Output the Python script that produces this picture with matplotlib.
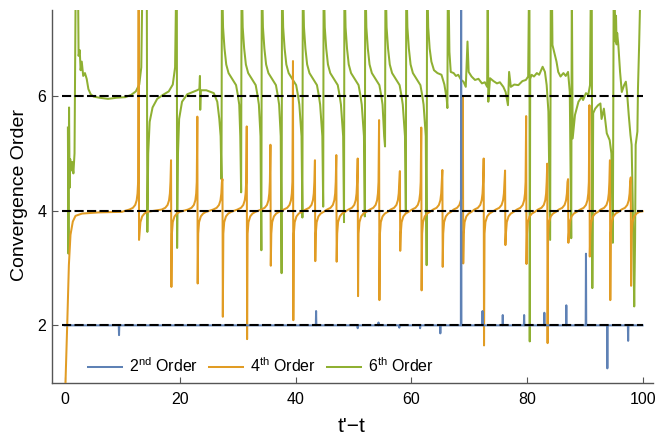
import matplotlib.pyplot as plt

plt.rcParams['font.family'] = ['Liberation Sans', 'DejaVu Sans']
plt.rcParams['mathtext.fontset'] = 'custom'
plt.rcParams['mathtext.rm'] = 'Liberation Sans'

BLUE = '#5E81B5'
ORANGE = '#E19C24'
GREEN = '#8FB032'
TOP = 8.0  # values that run off the top of the frame

# -------------------------------------------------
# data
# -------------------------------------------------
ref_levels = [2, 4, 6]

# 2nd order: flat at 2 with short spikes
blue_spike_x = [9.4, 43.5, 50.7, 54.3, 57.9, 61.5, 65.0, 68.6, 72.3, 75.8, 79.5, 83.0, 86.8, 90.2, 93.9, 97.5]
blue_spike_y = [1.83, 2.25, 1.95, 2.05, 1.96, 1.95, 1.86, TOP, 2.25, 2.18, 2.18, 2.22, 2.35, 3.25, 1.25, 1.73]

# 4th order: start-up, then resonances (pole position, peak, trough)
orange_lead_x = [0.05, 0.14, 0.43, 0.72, 1.0, 1.4, 1.87, 3.0, 5.9, 9.9]
orange_lead_y = [0.6, 1.02, 2.0, 3.05, 3.58, 3.81, 3.91, 3.95, 3.97, 3.98]
orange_pole_x = [12.8, 18.4, 22.95, 27.3, 31.5, 35.6, 39.5, 43.3, 47.0, 50.7, 54.4, 58.0,
                 61.7, 65.35, 68.9, 72.5, 76.2, 79.85, 83.5, 87.1, 90.8, 94.35, 97.95]
orange_peak = [TOP, 4.88, 5.64, 4.55, 5.47, 5.15, 6.61, 4.88, 4.97, 4.91, 5.58, 4.69,
               5.45, 4.71, 6.0, 4.91, 4.70, 5.65, 4.82, 4.55, 5.84, 4.88, 4.58]
orange_trough = [3.49, 2.67, 2.73, 2.15, 1.76, 3.04, 2.09, 3.12, 3.11, 2.51, 2.44, 3.30,
                 2.61, 3.02, 3.08, 1.65, 3.40, 3.07, 1.69, 3.44, 3.20, 2.44, 2.69]
# shape of one orange resonance (offset from pole, value)
orange_rise_dx = [-1.6, -1.0, -0.6, -0.35, -0.2, -0.1]
orange_rise_y = [4.02, 4.05, 4.10, 4.18, 4.30, 4.50]
orange_fall_dx = [0.15, 0.3, 0.6, 1.0, 1.5]
orange_fall_y = [3.60, 3.80, 3.90, 3.95, 3.98]

# 6th order: irregular start, regular poles, noisy end
green_lead_x = [0.55, 0.65, 0.75, 0.85, 0.95, 1.1, 1.3, 1.5, 1.7, 1.9, 2.3, 2.4, 2.6, 2.75,
                2.95, 3.2, 3.5, 3.8, 4.1, 4.5, 5.0, 6.0, 7.5, 9.0, 10.5, 11.5, 12.3, 12.9,
                13.25, 13.45, 14.2, 14.3, 14.45, 14.7, 15.2, 16.0, 17.0, 18.0, 18.7, 19.1,
                19.3, 19.4, 19.45, 19.6, 19.8, 20.3, 21.2, 22.9, 23.3, 23.4, 23.45, 23.55,
                24.5, 25.8, 26.4, 26.75]
green_lead_y = [5.45, 3.25, 5.8, 4.4, 4.9, 4.7, 4.85, 4.65, 5.0, TOP, TOP, 6.7, 6.8, 6.45,
                6.6, 6.35, 6.4, 6.3, 6.12, 6.03, 5.99, 5.97, 5.95, 5.97, 5.98, 6.02, 6.08, 6.2,
                6.5, TOP, TOP, 3.63, 5.0, 5.55, 5.8, 5.95, 6.02, 6.08, 6.2, 6.5,
                TOP, TOP, 3.35, 5.0, 5.6, 5.9, 6.03, 6.1, 6.12, 6.35, 5.76, 6.1,
                6.1, 6.05, 5.9, 5.6]
green_pole_x = [27.2, 30.6, 34.1, 37.6, 41.2, 44.8, 48.4, 52.0, 55.5, 59.1, 62.7]
green_pole_min = [4.55, 4.32, 3.31, 2.91, 3.88, 4.07, 3.8, 3.9, 5.12, 3.98, 3.05]
# shape after a pole and just before the next one
green_after_dx = [0.05, 0.2, 0.45, 0.75, 1.15, 1.9, 2.45, 2.75, 3.0]
green_after_y = [TOP, 7.2, 6.83, 6.55, 6.4, 6.28, 6.19, 6.02, 5.85]
green_before_dx = [-0.22]
green_before_y = [5.3]
green_tail_x = [62.75, 62.9, 63.15, 63.45, 63.9, 64.5, 65.2, 65.7, 66.1, 66.22, 66.3, 66.4,
                66.57, 66.8, 67.3, 67.7, 68.1, 68.6, 69.0, 69.4, 69.7, 69.9, 70.4, 71.0,
                71.6, 72.2, 72.7, 73.1, 73.2, 73.3, 73.6, 74.2, 74.8, 75.3, 75.9, 76.3,
                76.7, 76.9, 77.2, 77.8, 78.5, 79.2, 79.8, 80.2, 80.35, 80.42, 80.47, 80.55,
                80.8, 81.2, 81.7, 82.1, 82.7, 83.1, 83.4, 83.7, 84.0, 84.12, 84.3, 84.4,
                84.8, 85.1, 85.4, 85.8, 86.3, 86.7, 87.1, 87.4, 87.65, 87.75, 87.9, 88.3,
                88.9, 89.5, 89.7, 90.2, 90.6, 90.9, 91.05, 91.2, 91.3, 91.45, 91.8, 92.3,
                92.7, 92.9, 93.3, 93.8, 94.3, 94.6, 94.85, 95.0, 95.2, 95.3, 95.4, 95.5,
                95.6, 95.8, 96.1, 96.4, 96.8, 97.1, 97.3, 97.6, 97.9, 98.1, 98.3, 98.55,
                98.7, 98.8, 99.1, 99.2, 99.4, 99.65]
green_tail_y = [TOP, 7.2, 6.83, 6.6, 6.45, 6.4, 6.37, 6.2, 5.95, 5.79, TOP, TOP,
                6.77, 6.42, 6.40, 6.35, 6.37, 6.28, 6.25, 6.16, 6.95, 6.42, 6.34, 6.28,
                6.30, 6.22, 6.24, 6.16, TOP, 5.9, 6.31, 6.26, 6.22, 6.24, 6.16, 6.07,
                5.84, 6.42, 6.16, 6.2, 6.19, 6.26, 6.28, 6.34, TOP, TOP, 1.72, 6.3,
                6.37, 6.34, 6.40, 6.37, 6.51, 6.42, 6.19, 5.73, 3.49, TOP, TOP, 6.89,
                6.72, 6.6, 6.42, 6.34, 6.40, 6.35, 6.42, 6.07, 3.52, TOP, 5.26, 5.67,
                5.9, 5.99, 5.93, 6.05, 6.02, 6.19, TOP, TOP, 2.65, 5.7, 5.78, 5.84,
                5.87, 5.6, 5.78, 5.35, 5.23, 5.0, 3.44, TOP, 7.5, 6.95, 7.4, 6.9,
                7.1, 6.89, 6.42, 6.07, 6.19, 6.25, 6.07, 5.67, 5.32, 5.15, 4.1, 2.33,
                3.52, 5.15, 5.38, 6.13, 6.89, TOP]


# -------------------------------------------------
# assemble the polylines
# -------------------------------------------------
def build_blue():
    xs, ys = [0.0], [2.0]
    for p, v in zip(blue_spike_x, blue_spike_y):
        xs += [p - 0.05, p, p + 0.05]
        ys += [2.0, v, 2.0]
    xs.append(100.0)
    ys.append(2.0)
    return xs, ys


def build_orange():
    xs, ys = list(orange_lead_x), list(orange_lead_y)
    for p, hi, lo in zip(orange_pole_x, orange_peak, orange_trough):
        xs += [p + d for d in orange_rise_dx] + [p, p + 0.06] + [p + d for d in orange_fall_dx]
        ys += orange_rise_y + [hi, lo] + orange_fall_y
    xs.append(100.0)
    ys.append(3.99)
    return xs, ys


def build_green():
    xs, ys = list(green_lead_x), list(green_lead_y)
    last = len(green_pole_x) - 1
    for i, (p, lo) in enumerate(zip(green_pole_x, green_pole_min)):
        xs += [p + d for d in green_before_dx] + [p - 0.07, p]
        ys += green_before_y + [lo, TOP]
        if i < last:
            xs += [p + d for d in green_after_dx]
            ys += green_after_y
    xs += green_tail_x
    ys += green_tail_y
    return xs, ys


# -------------------------------------------------
# figure
# -------------------------------------------------
fig = plt.figure(figsize=(6.57, 4.37), dpi=100)
ax = fig.add_axes([52 / 657, 54.3 / 437, 601 / 657, 372.7 / 437])

bx, by = build_blue()
ox, oy = build_orange()
gx, gy = build_green()

ax.plot(gx, gy, color=GREEN, lw=1.45, zorder=2, label='6$^{\\mathrm{th}}$ Order')
ax.plot(ox, oy, color=ORANGE, lw=1.45, zorder=3, label='4$^{\\mathrm{th}}$ Order')
ax.plot(bx, by, color=BLUE, lw=1.45, zorder=4, label='2$^{\\mathrm{nd}}$ Order')

for lev in ref_levels:
    ax.plot([-0.4, 100], [lev, lev], color='black', lw=1.5, dashes=(4.4, 1.6), zorder=5)

ax.set_xlim(-2.2, 101.8)
ax.set_ylim(1.0, 7.5)
ax.set_xticks([0, 20, 40, 60, 80, 100])
ax.set_yticks(ref_levels)

for side in ['top', 'right']:
    ax.spines[side].set_visible(False)
for side in ['left', 'bottom']:
    ax.spines[side].set_color('#555555')
    ax.spines[side].set_linewidth(1.0)
ax.tick_params(direction='in', length=4, width=0.8, color='#555555', labelsize=11.5)
ax.tick_params(axis='x', pad=6.5)
ax.tick_params(axis='y', pad=4)

fig.text(20 / 657, 1 - 195 / 437, 'Convergence Order', rotation=90,
         ha='center', va='center', fontsize=14)
fig.text(352 / 657, 1 - 427 / 437, "t'\u2212t", ha='center', va='center', fontsize=15)

handles, labels = ax.get_legend_handles_labels()
ax.legend(handles[::-1], labels[::-1], ncol=3, frameon=False, fontsize=11.5,
          loc='center left', bbox_to_anchor=(0.06, 0.045), borderpad=0, borderaxespad=0,
          handlelength=2.1, handletextpad=0.45, columnspacing=0.7)

fig.savefig('out.png', dpi=100)
